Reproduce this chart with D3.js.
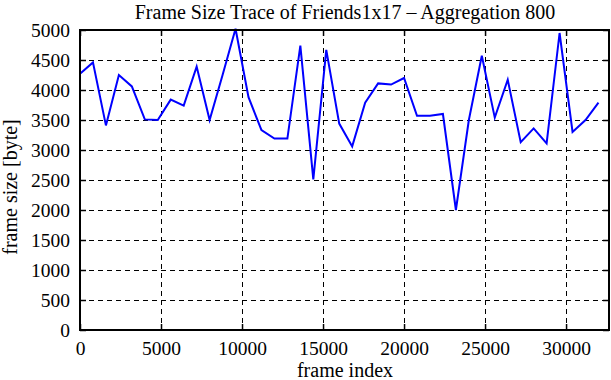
<!DOCTYPE html>
<html>
<head>
<meta charset="utf-8">
<script src="https://cdn.jsdelivr.net/npm/d3@7"></script>
<style>
  body { margin: 0; background: #fff; }
  text { font-family: "Liberation Serif", "DejaVu Serif", serif; fill: #000; }
</style>
</head>
<body>
<svg id="chart" width="611" height="380"></svg>
<script>
// frame size trace, one point per 800 frames
const frameSizes = [
  4270, 4460, 3410, 4250, 4060, 3510, 3500, 3840, 3740, 4390,
  3500, 4250, 5020, 3880, 3330, 3190, 3190, 4740, 2510, 4670,
  3440, 3060, 3790, 4110, 4090, 4200, 3570, 3570, 3600, 2000,
  3500, 4570, 3540, 4170, 3130, 3360, 3110, 4950, 3300, 3500,
  3790
];
const STEP = 800;
const xTicks = [0, 5000, 10000, 15000, 20000, 25000, 30000];
const yTicks = [0, 500, 1000, 1500, 2000, 2500, 3000, 3500, 4000, 4500, 5000];

const margin = { top: 30, right: 2, bottom: 50, left: 80 };
const width = 611, height = 380;

const svg = d3.select("#chart");

const x = d3.scaleLinear().domain([0, 32650]).range([margin.left, width - margin.right]);
const y = d3.scaleLinear().domain([0, 5000]).range([height - margin.bottom, margin.top]);

// ─── grid ─────────────────────────────────────────────────────────────────
const grid = svg.append("g")
  .attr("stroke", "#000").attr("stroke-width", 1).attr("stroke-dasharray", "5,4");

grid.selectAll("line.gx").data(xTicks.slice(1))
  .enter().append("line")
  .attr("x1", d => Math.round(x(d)) + 0.5).attr("x2", d => Math.round(x(d)) + 0.5)
  .attr("y1", y(5000)).attr("y2", y(0));

grid.selectAll("line.gy").data(yTicks.slice(1, -1))
  .enter().append("line")
  .attr("x1", x.range()[0]).attr("x2", x.range()[1])
  .attr("y1", d => y(d) + 0.5).attr("y2", d => y(d) + 0.5);

// ─── axes ─────────────────────────────────────────────────────────────────
const fs = "19.5px";
const xAxis = svg.append("g")
  .attr("transform", `translate(0,${y(0)})`)
  .call(d3.axisBottom(x).tickValues(xTicks).tickSize(-6).tickPadding(18).tickFormat(d3.format("d")));
const yAxis = svg.append("g")
  .attr("transform", `translate(${x.range()[0]},0)`)
  .call(d3.axisLeft(y).tickValues(yTicks).tickSize(-6).tickPadding(10).tickFormat(d3.format("d")));
const xTop = svg.append("g")
  .attr("transform", `translate(0,${y(5000)})`)
  .call(d3.axisTop(x).tickValues(xTicks).tickSize(-6).tickFormat(""));
const yRight = svg.append("g")
  .attr("transform", `translate(${x.range()[1]},0)`)
  .call(d3.axisRight(y).tickValues(yTicks).tickSize(-6).tickFormat(""));

[xAxis, yAxis, xTop, yRight].forEach(g => {
  g.select(".domain").remove();
  g.selectAll(".tick line").attr("stroke", "#000").attr("stroke-width", 1.5);
  g.selectAll("text").style("font-size", fs).style("font-family", "Liberation Serif");
});
xAxis.selectAll("text").attr("dy", "0.35em");

// ─── data line ────────────────────────────────────────────────────────────
const line = d3.line()
  .x((d, i) => x(i * STEP))
  .y(d => y(d));

svg.append("path")
  .datum(frameSizes)
  .attr("fill", "none")
  .attr("stroke", "#0000ff")
  .attr("stroke-width", 2)
  .attr("d", line);

// ─── frame ────────────────────────────────────────────────────────────────
svg.append("rect")
  .attr("x", x.range()[0]).attr("y", y(5000))
  .attr("width", x.range()[1] - x.range()[0])
  .attr("height", y(0) - y(5000))
  .attr("fill", "none").attr("stroke", "#000").attr("stroke-width", 2);

// ─── labels ───────────────────────────────────────────────────────────────
svg.append("text")
  .attr("x", 345).attr("y", 19)
  .attr("text-anchor", "middle").style("font-size", "20px")
  .text("Frame Size Trace of Friends1x17 \u2013 Aggregation 800");

svg.append("text")
  .attr("x", 345).attr("y", 377)
  .attr("text-anchor", "middle").style("font-size", "20px")
  .text("frame index");

svg.append("text")
  .attr("transform", `translate(17,187) rotate(-90)`)
  .attr("text-anchor", "middle").style("font-size", "20px")
  .text("frame size [byte]");
</script>
</body>
</html>
